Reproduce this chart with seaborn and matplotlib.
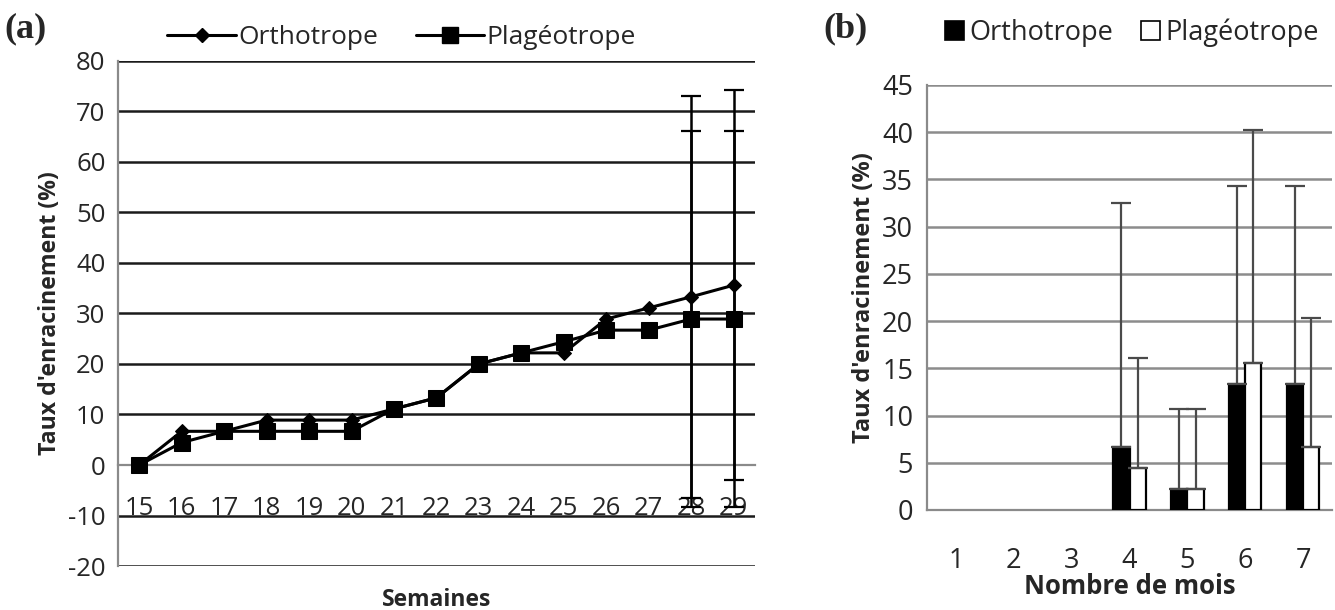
import matplotlib
matplotlib.use("Agg")
import matplotlib.pyplot as plt
import seaborn as sns
import pandas as pd
import numpy as np
from matplotlib.patches import Patch
from matplotlib.lines import Line2D

# ---------------- data (a) ----------------
weeks = ["15", "16", "17", "18", "19", "20", "21", "22", "23", "24", "25", "26", "27", "28", "29"]
ortho_a = [0, 6.67, 6.67, 8.89, 8.89, 8.89, 11.1, 13.3, 20.0, 22.2, 22.2, 28.9, 31.1, 33.3, 35.6]
plag_a = [0, 4.44, 6.67, 6.67, 6.67, 6.67, 11.1, 13.3, 20.0, 22.2, 24.4, 26.7, 26.7, 28.9, 28.9]
err_weeks = ["28", "29"]
ortho_err_a = [39.8, 38.6]
plag_err_a = [37.3, 37.3]
yticks_a = [-20, -10, 0, 10, 20, 30, 40, 50, 60, 70, 80]

# ---------------- data (b) ----------------
months = ["1", "2", "3", "4", "5", "6", "7"]
ortho_b = [0, 0, 0, 6.67, 2.22, 13.3, 13.3]
plag_b = [0, 0, 0, 4.44, 2.22, 15.6, 6.67]
ortho_err_b = [0, 0, 0, 25.8, 8.5, 21.0, 21.0]
plag_err_b = [0, 0, 0, 11.6, 8.5, 24.6, 13.7]
yticks_b = [0, 5, 10, 15, 20, 25, 30, 35, 40, 45]

series = ["Orthotrope", "Plagéotrope"]

sns.set_theme(style="white")
plt.rcParams["font.family"] = ["Open Sans", "DejaVu Sans"]

fig = plt.figure(figsize=(13.35, 6.10), dpi=100)
axa = fig.add_axes([0.0884, 0.0721, 0.477, 0.828])
axb = fig.add_axes([0.6944, 0.164, 0.3034, 0.6967])

tick_a = 18.5
tick_b = 19.5
leg_a = 19
leg_b = 19.5
ylab_fs = 16.7

# ---------------- panel (a) ----------------
df_o = pd.DataFrame({"Semaine": weeks, "Taux": ortho_a})
df_p = pd.DataFrame({"Semaine": weeks, "Taux": plag_a})
sns.lineplot(data=df_o, x="Semaine", y="Taux", ax=axa, color="black", lw=2.2,
             marker="D", markersize=7, markeredgecolor="black", sort=False, zorder=5)
sns.lineplot(data=df_p, x="Semaine", y="Taux", ax=axa, color="black", lw=2.2,
             marker="s", markersize=12, markeredgecolor="black", sort=False, zorder=5)

for w, e in zip(err_weeks, ortho_err_a):
    i = weeks.index(w)
    axa.errorbar(i, ortho_a[i], yerr=e, color="black", lw=1.8, capsize=7, capthick=1.6, zorder=4)
for w, e in zip(err_weeks, plag_err_a):
    i = weeks.index(w)
    axa.errorbar(i, plag_a[i], yerr=e, color="black", lw=1.8, capsize=7, capthick=1.6, zorder=4)

axa.set_ylim(-20, 80)
axa.set_xlim(-0.5, len(weeks) - 0.5)
axa.set_yticks(yticks_a)
axa.set_yticklabels([str(v) for v in yticks_a], fontsize=tick_a)
for v in yticks_a:
    if v != 0:
        axa.axhline(v, color="#1a1a1a", lw=1.8, zorder=1)
axa.spines["bottom"].set_position(("data", 0))
for s in ["top", "right"]:
    axa.spines[s].set_visible(False)
for s in ["left", "bottom"]:
    axa.spines[s].set_color("#8a8a8a")
    axa.spines[s].set_linewidth(1.6)
axa.spines["bottom"].set_zorder(2)
axa.set_xticks(np.arange(-0.5, len(weeks), 1.0))
axa.set_xticklabels([""] * len(np.arange(-0.5, len(weeks), 1.0)))
axa.set_xticks(np.arange(len(weeks)), minor=True)
axa.set_xticklabels(weeks, minor=True, fontsize=tick_a)
axa.tick_params(axis="x", which="major", direction="out", length=8, width=1.5, color="#8a8a8a")
axa.tick_params(axis="x", which="minor", length=0, pad=22)
axa.tick_params(axis="y", direction="out", length=7, width=1.5, color="#8a8a8a", pad=2)
axa.set_xlabel("")
axa.set_ylabel("Taux d'enracinement (%)", fontsize=ylab_fs, fontweight="bold", labelpad=4)
fig.text(0.327, 0.016, "Semaines", fontsize=16.5, fontweight="bold", ha="center", va="center")
axa.grid(False)

handles_a = [Line2D([], [], color="black", lw=2.2, marker="D", markersize=7),
             Line2D([], [], color="black", lw=2.2, marker="s", markersize=12)]
fig.legend(handles_a, series, loc="center", bbox_to_anchor=(0.301, 0.938), ncol=2,
           frameon=False, fontsize=leg_a, handlelength=2.6, columnspacing=1.4,
           handletextpad=0.1)

# ---------------- panel (b) ----------------
df_b = pd.DataFrame({
    "Mois": months * 2,
    "Taux": ortho_b + plag_b,
    "Type": [series[0]] * len(months) + [series[1]] * len(months),
})
sns.barplot(data=df_b, x="Mois", y="Taux", hue="Type", ax=axb,
            palette={series[0]: "black", series[1]: "white"}, edgecolor="black",
            linewidth=1.6, width=0.56, errorbar=None, legend=False, zorder=3)

grey = "#4a4a4a"
for cont, vals, errs in zip(axb.containers, [ortho_b, plag_b], [ortho_err_b, plag_err_b]):
    for bar, v, e in zip(cont, vals, errs):
        if v == 0:
            bar.set_linewidth(0)
        if e > 0:
            xc = bar.get_x() + bar.get_width() / 2
            axb.errorbar(xc, v, yerr=[[0], [e]], color=grey, lw=1.6, capsize=7,
                         capthick=1.6, zorder=4)

axb.set_ylim(0, 45)
axb.set_xlim(-0.5, len(months) - 0.5)
axb.set_yticks(yticks_b)
axb.set_yticklabels([str(v) for v in yticks_b], fontsize=tick_b)
for v in yticks_b:
    if v != 0:
        axb.axhline(v, color="#8c8c8c", lw=1.8, zorder=1)
for s in ["top", "right"]:
    axb.spines[s].set_visible(False)
for s in ["left", "bottom"]:
    axb.spines[s].set_color("#8a8a8a")
    axb.spines[s].set_linewidth(1.6)
axb.set_xticks(np.arange(-0.5, len(months), 1.0))
axb.set_xticklabels([""] * len(np.arange(-0.5, len(months), 1.0)))
axb.set_xticks(np.arange(len(months)), minor=True)
axb.set_xticklabels(months, minor=True, fontsize=tick_b)
axb.tick_params(axis="x", which="major", direction="out", length=10, width=1.5, color="#8a8a8a")
axb.tick_params(axis="x", which="minor", length=0, pad=27)
axb.tick_params(axis="y", direction="out", length=8, width=1.5, color="#8a8a8a", pad=2)
axb.set_xlabel("Nombre de mois", fontsize=18.5, fontweight="bold", labelpad=-2)
axb.set_ylabel("Taux d'enracinement (%)", fontsize=ylab_fs + 0.3, fontweight="bold", labelpad=4)
axb.grid(False)

handles_b = [Patch(facecolor="black", edgecolor="black", lw=1.2),
             Patch(facecolor="white", edgecolor="black", lw=1.2)]
fig.legend(handles_b, series, loc="center", bbox_to_anchor=(0.848, 0.946), ncol=2,
           frameon=False, fontsize=leg_b, handlelength=0.7, handleheight=0.7,
           columnspacing=1.0, handletextpad=0.2)

# panel letters
fig.text(0.003, 0.952, "(a)", fontsize=26, fontweight="bold", family="Liberation Serif",
         ha="left", va="center")
fig.text(0.617, 0.952, "(b)", fontsize=26, fontweight="bold", family="Liberation Serif",
         ha="left", va="center")

fig.savefig("out.png", dpi=100)
